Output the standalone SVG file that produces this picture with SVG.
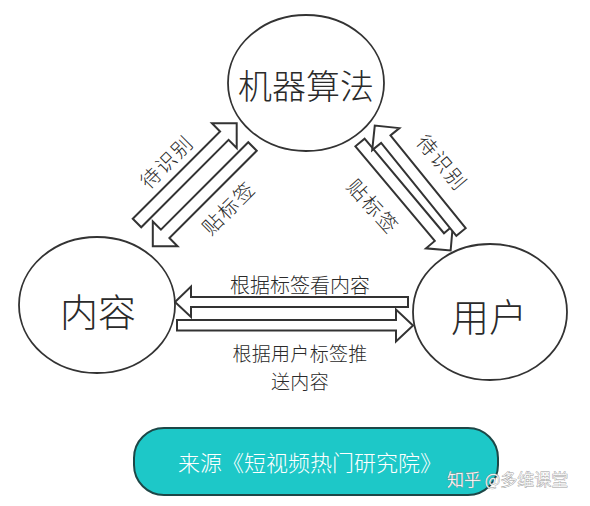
<svg xmlns="http://www.w3.org/2000/svg" width="590" height="506" viewBox="0 0 590 506">
<style>
.node{fill:#fff;stroke:#333;stroke-width:1.8}
.arr{fill:#fff;stroke:#333;stroke-width:2;stroke-linejoin:miter}
.t{font-family:"Noto Sans CJK SC","Noto Sans",sans-serif;font-weight:300;fill:#2a2a2a;text-anchor:middle}
.big{font-size:38px}
.lbl{font-size:20px;letter-spacing:2px;dominant-baseline:central}
.src{font-family:"Noto Sans CJK SC","Noto Sans",sans-serif;font-weight:300;font-size:22px;fill:#fff}
.wm{font-family:"Noto Sans CJK SC","Noto Sans",sans-serif;font-weight:300;font-size:17px;fill:#fff;stroke:#999;stroke-width:0.8;paint-order:stroke}
</style>
<defs>
<polygon id="a141" points="0,-6 123.5,-6 123.5,-17.5 141,0 123.5,17.5 123.5,6 0,6"/>
</defs>
<rect width="590" height="506" fill="#fff"/>
<g id="connectors">
<use href="#a141" class="arr" transform="translate(137,223) rotate(-45)"/>
<use href="#a141" class="arr" transform="translate(252.5,146.5) rotate(135)"/>
<use href="#a141" class="arr" transform="translate(360,142.5) rotate(50)"/>
<polygon class="arr" transform="translate(461,232) rotate(-129)" points="0,-6 119.5,-6 119.5,-17.5 137,0 119.5,17.5 119.5,6 0,6"/>
<polygon class="arr" points="408,297 191,297 191,286.5 175,302 191,317 191,307 408,307"/>
<polygon class="arr" points="177,320 396,320 396,309.5 413,325.5 396,341.5 396,330.5 177,330.5"/>
<text class="t lbl" transform="translate(166,161) rotate(-45)">待识别</text>
<text class="t lbl" transform="translate(228,207) rotate(-45)">贴标签</text>
<text class="t lbl" transform="translate(443,162) rotate(50)">待识别</text>
<text class="t lbl" transform="translate(374,206) rotate(48)">贴标签</text>
<text class="t" font-size="20" x="300" y="293">根据标签看内容</text>
<text class="t" font-size="19" x="300" y="361" letter-spacing="0.3">根据用户标签推<tspan x="300" dy="27.5">送内容</tspan></text>
</g>
<g id="node-algo">
<ellipse class="node" cx="306" cy="83" rx="78" ry="68"/>
<text class="t" font-size="34" x="306" y="99">机器算法</text>
</g>
<g id="node-content">
<ellipse class="node" cx="97" cy="305" rx="78" ry="68"/>
<text class="t big" x="98" y="326">内容</text>
</g>
<g id="node-user">
<ellipse class="node" cx="490" cy="312" rx="77" ry="68"/>
<text class="t big" x="489" y="331">用户</text>
</g>
<g id="source">
<rect x="134" y="428" width="364" height="67" rx="30" ry="30" fill="#1dc8c8" stroke="#1d4747" stroke-width="2"/>
<text class="src" x="178" y="471">来源《短视频热门研究院》</text>
</g>
<text class="wm" x="447" y="486">知乎 @多维课堂</text>
</svg>
